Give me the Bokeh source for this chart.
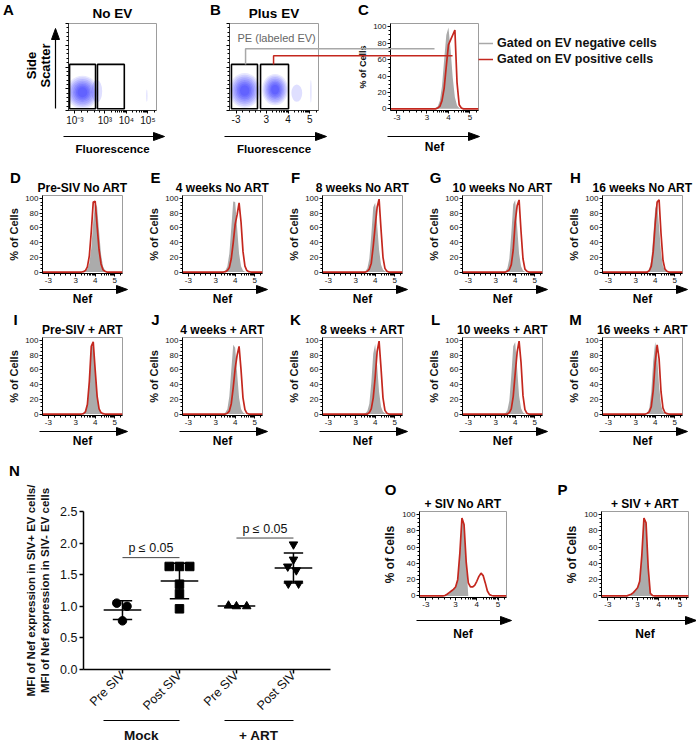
import numpy as np
from bokeh.plotting import figure
from bokeh.layouts import row, column
from bokeh.models import (FixedTicker, LinearAxis, Legend, LegendItem, Range1d,
                          NumeralTickFormatter)
from bokeh.core.properties import value
from bokeh.embed import file_html
from bokeh.resources import INLINE

FONT = "Liberation Sans"
RED = "#c4271e"
GFILL = "#ababab"
GLINE = "#a8a8a8"
BLUE = "#1c1cff"
INK = "#111111"
YSIGN = 1  # text y_offset direction (screen)

# ---------------- data ----------------
BINS = [2.4, 2.5, 2.6, 2.7, 2.8, 2.9, 3.0, 3.1, 3.2, 3.3, 3.4, 3.5, 3.6, 3.7,
        3.8, 3.9, 4.0, 4.1, 4.2, 4.3, 4.4, 4.5, 4.6, 4.7, 4.8, 4.9, 5.0]
NEF_TICKS = [1.6, 3, 4, 5]
NEF_LABELS = ["-3", "3", "4", "5"]
FLUO_LABELS_A = ["10\u207b\u00b3", "10\u00b3", "10\u2074", "10\u2075"]
PCT_TICKS = [0, 20, 40, 60, 80, 100]

GRAY_C = [0, 0, 0, 0, 0, 0, 0, 0, 0, 0, 1, 3, 10, 28, 60, 90, 99, 72, 38, 14, 4, 1, 0, 0, 0, 0, 0]
RED_C = [0, 0, 0, 0, 0, 0, 0, 0, 0, 0, 0, 1, 3, 10, 25, 52, 78, 84, 90, 96, 32, 5, 1, 0, 0, 0, 0]

ROW2_LETTERS = ["D", "E", "F", "G", "H"]
ROW2_TITLES = ["Pre-SIV No ART", "4 weeks No ART", "8 weeks No ART", "10 weeks No ART", "16 weeks No ART"]
ROW3_LETTERS = ["I", "J", "K", "L", "M"]
ROW3_TITLES = ["Pre-SIV + ART", "4 weeks + ART", "8 weeks + ART", "10 weeks + ART", "16 weeks + ART"]

GRAY_D = [0, 0, 0, 0, 0, 0, 0, 0, 0, 0, 0, 1, 4, 12, 32, 68, 95, 88, 55, 24, 8, 2, 0, 0, 0, 0, 0]
RED_D = [0, 0, 0, 0, 0, 0, 0, 0, 0, 0, 0.5, 2, 7, 22, 55, 95, 96, 62, 30, 11, 3, 1, 0, 0, 0, 0, 0]
GRAY_E = [0, 0, 0, 0, 0, 0, 0, 0, 0, 0, 0.5, 2, 8, 25, 60, 96, 95, 60, 25, 8, 2, 0.5, 0, 0, 0, 0, 0]
RED_E = [0, 0, 0, 0, 0, 0, 0, 0, 0, 0, 0, 0.5, 2, 6, 18, 40, 65, 78, 94, 68, 28, 8, 2, 0.5, 0, 0, 0]
GRAY_F = [0, 0, 0, 0, 0, 0, 0, 0, 0, 0, 0, 1, 5, 18, 50, 88, 94, 65, 30, 10, 3, 1, 0, 0, 0, 0, 0]
RED_F = [0, 0, 0, 0, 0, 0, 0, 0, 0, 0, 0, 0, 1, 4, 12, 35, 62, 88, 99, 58, 20, 5, 1, 0, 0, 0, 0]
GRAY_G = [0, 0, 0, 0, 0, 0, 0, 0, 0, 0, 0, 1, 5, 18, 52, 92, 98, 62, 25, 8, 2, 0.5, 0, 0, 0, 0, 0]
RED_G = [0, 0, 0, 0, 0, 0, 0, 0, 0, 0, 0, 0, 1, 3, 10, 30, 68, 90, 98, 55, 18, 4, 1, 0, 0, 0, 0]
GRAY_H = [0, 0, 0, 0, 0, 0, 0, 0, 0, 0, 0, 0, 1, 4, 16, 48, 86, 94, 62, 26, 8, 2, 0.5, 0, 0, 0, 0]
RED_H = [0, 0, 0, 0, 0, 0, 0, 0, 0, 0, 0, 0, 0, 2, 8, 28, 65, 95, 98, 52, 16, 4, 1, 0, 0, 0, 0]

GRAY_I = [0, 0, 0, 0, 0, 0, 0, 0, 0, 0, 1, 4, 15, 45, 88, 95, 62, 27, 8, 2, 0.5, 0, 0, 0, 0, 0, 0]
RED_I = [0, 0, 0, 0, 0, 0, 0, 0, 0, 0, 0.5, 3, 13, 44, 92, 98, 60, 24, 7, 2, 0.5, 0, 0, 0, 0, 0, 0]
GRAY_J = [0, 0, 0, 0, 0, 0, 0, 0, 0, 0, 0, 2, 7, 24, 60, 94, 90, 55, 22, 7, 2, 0.5, 0, 0, 0, 0, 0]
RED_J = [0, 0, 0, 0, 0, 0, 0, 0, 0, 0, 0, 0, 1, 4, 14, 36, 62, 80, 92, 60, 22, 6, 1, 0, 0, 0, 0]
GRAY_K = [0, 0, 0, 0, 0, 0, 0, 0, 0, 0, 0, 1, 4, 14, 42, 82, 95, 66, 30, 10, 3, 1, 0, 0, 0, 0, 0]
RED_K = [0, 0, 0, 0, 0, 0, 0, 0, 0, 0, 0, 0, 0, 2, 7, 22, 50, 85, 99, 62, 22, 5, 1, 0, 0, 0, 0]
GRAY_L = [0, 0, 0, 0, 0, 0, 0, 0, 0, 0, 0, 1, 5, 18, 52, 92, 98, 62, 25, 8, 2, 0.5, 0, 0, 0, 0, 0]
RED_L = [0, 0, 0, 0, 0, 0, 0, 0, 0, 0, 0, 0, 0, 2, 7, 24, 55, 84, 99, 70, 25, 6, 1, 0, 0, 0, 0]
GRAY_M = [0, 0, 0, 0, 0, 0, 0, 0, 0, 0, 0, 0, 2, 8, 30, 72, 98, 80, 38, 12, 3, 1, 0, 0, 0, 0, 0]
RED_M = [0, 0, 0, 0, 0, 0, 0, 0, 0, 0, 0, 0, 1, 3, 10, 32, 70, 94, 75, 30, 8, 2, 0.5, 0, 0, 0, 0]

GRAY_O = [0, 0.5, 2, 4, 6, 8, 11, 20, 52, 96, 88, 42, 0, 0, 0, 0, 0, 0, 0, 0, 0, 0, 0, 0, 0, 0, 0]
RED_O = [0, 0.5, 2, 4, 6, 8, 11, 20, 52, 96, 88, 42, 16, 11, 11, 13, 18, 24, 28, 25, 16, 6, 1.5, 0.5, 0, 0, 0]
GRAY_P = [0, 0, 1, 2, 4, 6, 9, 17, 48, 97, 88, 30, 2, 0, 0, 0, 0, 0, 0, 0, 0, 0, 0, 0, 0, 0, 0]
RED_P = [0, 0, 1, 2, 4, 7, 10, 18, 50, 96, 90, 35, 3, 0.5, 0, 0, 0, 0, 0, 0, 0, 0, 0, 0, 0, 0, 0]

ROW2_GRAY = [GRAY_D, GRAY_E, GRAY_F, GRAY_G, GRAY_H]
ROW2_RED = [RED_D, RED_E, RED_F, RED_G, RED_H]
ROW3_GRAY = [GRAY_I, GRAY_J, GRAY_K, GRAY_L, GRAY_M]
ROW3_RED = [RED_I, RED_J, RED_K, RED_L, RED_M]

# flow dot-plot populations (centre, spread) on the display scale
CLOUD_A_X, CLOUD_A_Y, CLOUD_A_W, CLOUD_A_H = [1.95], [21], [1.5], [38]
SPARSE_A_X, SPARSE_A_Y, SPARSE_A_W, SPARSE_A_H = [2.62, 4.95], [22, 17], [0.5, 0.06], [26, 14]
CLOUD_B_X, CLOUD_B_Y, CLOUD_B_W, CLOUD_B_H = [2.0, 3.4], [23, 24], [1.45, 1.2], [40, 36]
SPARSE_B_X, SPARSE_B_Y, SPARSE_B_W, SPARSE_B_H = [5.05, 4.4], [22, 20], [0.06, 0.5], [26, 20]
GATE_A_X0, GATE_A_X1 = [1.35, 2.65], [2.56, 3.9]
GATE_B_X0, GATE_B_X1 = [1.39, 2.73], [2.59, 4.02]
GATE_Y0, GATE_Y1 = 2, 53
LINK_X_B = [2.04, 3.33]        # gate connectors (x in B)
LINK_LEVEL = [71, 63]          # connector height (% of panel)
LINK_END_C = [3.35, 4.19]      # where they end in C
LEGEND_LABELS = ["Gated on EV negative cells", "Gated on EV positive cells"]

# panel N
N_CATS = ["Pre SIV", "Post SIV", "Pre SIV", "Post SIV"]
N_GROUPS = ["Mock", "+ ART"]
MOCK_PRE = [1.05, 1.00, 0.77]
MOCK_POST = [1.63, 1.63, 1.63, 1.35, 1.20, 0.96]
ART_PRE = [1.01, 1.00, 1.00]
ART_POST = [1.98, 1.74, 1.63, 1.57, 1.36, 1.36]
MOCK_PRE_DX = [-0.10, 0.08, 0.0]
MOCK_POST_DX = [-0.18, 0.0, 0.18, 0.0, 0.0, 0.0]
ART_PRE_DX = [-0.14, 0.0, 0.18]
ART_POST_DX = [0.0, 0.0, -0.10, 0.05, -0.09, 0.09]
P_TEXT = ["p \u2264 0.05", "p \u2264 0.05"]
P_X0, P_X1, P_Y = [1, 3], [2, 4], [1.77, 2.08]
GROUP_LABEL_X = [1.33, 3.39]
GROUP_LINE_X0, GROUP_LINE_X1 = [0.667, 2.79], [2.0, 4.0]

XR = (1.3, 5.4)
YR = (-2.0, 104.0)
SYR = (0.0, 100.0)
MINOR_X = [1.9, 2.2, 2.5, 2.75] + [d + float(np.log10(k)) for d in (3, 4) for k in range(2, 10)] + [5.3]


class Geo:
    def __init__(self, L, T, W, H, xr, yr):
        self.L, self.T, self.W, self.H, self.xr, self.yr = L, T, W, H, xr, yr

    def m(self, px, py):
        return (self.xr[0] + (px - self.L) / self.W * (self.xr[1] - self.xr[0]),
                self.yr[1] - (py - self.T) / self.H * (self.yr[1] - self.yr[0]))


def otext(p, g, px, py, s, size, bold=True, color="black", align="center", angle=0.0):
    """text anchored at the frame centre and shifted (in pixels) to canvas point px, py"""
    xc = (g.xr[0] + g.xr[1]) / 2
    yc = (g.yr[0] + g.yr[1]) / 2
    p.text(x=[xc], y=[yc], text=[s], x_offset=px - (g.L + g.W / 2),
           y_offset=YSIGN * (py - (g.T + g.H / 2)), angle=angle,
           text_font=value(FONT), text_font_size=f"{size}px",
           text_font_style="bold" if bold else "normal", text_color=color,
           text_align=align, text_baseline="middle", level="overlay")


def h_arrow(p, g, x0, x1, y):
    a0, ay = g.m(x0, y)
    a1, _ = g.m(x1 - 6, y)
    p.line([a0, a1], [ay, ay], line_color="black", line_width=1.2, level="overlay")
    hx, hy0 = g.m(x1 - 11, y - 4)
    _, hy1 = g.m(x1 - 11, y + 4)
    tx, _ = g.m(x1, y)
    p.patch([hx, hx, tx], [hy0, hy1, ay], fill_color="black", line_color="black", level="overlay")


def v_arrow(p, g, x, y0, y1):
    ax, a0 = g.m(x, y0)
    _, a1 = g.m(x, y1 + 6)
    hx0, hy = g.m(x - 4, y1 + 11)
    hx1, _ = g.m(x + 4, y1 + 11)
    _, ty = g.m(x, y1)
    p.line([ax, ax], [a0, a1], line_color="black", line_width=1.2, level="overlay")
    p.patch([hx0, hx1, ax], [hy, hy, ty], fill_color="black", line_color="black", level="overlay")


def base_fig(g, R, B):
    p = figure(frame_width=g.W, frame_height=g.H, min_border_left=g.L, min_border_right=R,
               min_border_top=g.T, min_border_bottom=B, x_range=Range1d(*g.xr), y_range=Range1d(*g.yr),
               output_backend="svg", toolbar_location=None, title=None)
    p.grid.visible = False
    p.outline_line_color = "#9d9d9d"
    for ax in (p.xaxis[0], p.yaxis[0]):
        ax.axis_line_color = "black"
        ax.major_tick_line_color = "black"
        ax.minor_tick_line_color = "black"
        ax.major_tick_out, ax.major_tick_in = 3, 0
        ax.minor_tick_out, ax.minor_tick_in = 2, 0
        ax.major_label_text_font = FONT
        ax.major_label_text_color = INK
        ax.major_label_standoff = 1
        ax.axis_label_text_font = FONT
        ax.axis_label_text_color = INK
        ax.axis_label_text_font_style = "bold"
        ax.axis_label_standoff = 2
    return p


def hist_fig(letter, title, gray, red, L, T, W, H, R, B, *, ylab=11, tick=8,
             arrow_gap=16, lab_gap=25, title_gap=8, letter_xy=(15, 14), arrow_ext=5, tsize=12):
    g = Geo(L, T, W, H, XR, YR)
    p = base_fig(g, R, B)
    xs = [XR[0]] + BINS + [XR[1]]
    p.varea(x=xs, y1=[0] * len(xs), y2=[0] + gray + [0], fill_color=GFILL)
    p.line(xs, [0] + red + [0], line_color=RED, line_width=1.7)
    p.xaxis.ticker = FixedTicker(ticks=NEF_TICKS, minor_ticks=MINOR_X)
    p.xaxis.major_label_overrides = dict(zip(NEF_TICKS, NEF_LABELS))
    p.yaxis.ticker = FixedTicker(ticks=PCT_TICKS, minor_ticks=list(range(0, 101, 5)))
    p.xaxis.major_label_text_font_size = f"{tick}px"
    p.yaxis.major_label_text_font_size = f"{tick}px"
    p.yaxis.axis_label = "% of Cells"
    p.yaxis.axis_label_text_font_size = f"{ylab}px"
    h_arrow(p, g, L - 3, L + W + arrow_ext, T + H + arrow_gap)
    otext(p, g, L + W / 2, T + H + lab_gap, "Nef", 12)
    if title:
        otext(p, g, L + W / 2, T - title_gap, title, tsize)
    otext(p, g, letter_xy[0], letter_xy[1], letter, 15)
    return p, g


# ---------------- row 1 ----------------
R1T, R1H, R1B = 23, 87, 53
CLOUD_LAYERS = [(1.0, 0.1), (0.9, 0.11), (0.8, 0.12), (0.7, 0.13), (0.6, 0.14),
                (0.5, 0.15), (0.4, 0.16), (0.3, 0.17)]


def scatter_fig(letter, title, tick_labels, cx, cy, cw, ch, sx, sy, sw, sh, gx0, gx1, L, W, R, letter_x):
    g = Geo(L, R1T, W, R1H, XR, SYR)
    p = base_fig(g, R, R1B)
    p.axis.axis_line_color = "#333333"
    for s, a in CLOUD_LAYERS:
        p.ellipse(x=cx, y=cy, width=[w * s for w in cw], height=[h * s for h in ch],
                  fill_color=BLUE, fill_alpha=a, line_color=None)
    p.ellipse(x=sx, y=sy, width=sw, height=sh, fill_color=BLUE, fill_alpha=0.14, line_color=None)
    p.quad(left=gx0, right=gx1, bottom=[GATE_Y0] * 2, top=[GATE_Y1] * 2,
           fill_color=None, line_color="black", line_width=1.6)
    p.xaxis.ticker = FixedTicker(ticks=NEF_TICKS, minor_ticks=MINOR_X)
    p.xaxis.major_label_overrides = dict(zip(NEF_TICKS, tick_labels))
    p.xaxis.major_label_text_font_size = "10px"
    p.yaxis.ticker = FixedTicker(ticks=[0, 25, 50, 75, 100], minor_ticks=list(range(0, 101, 5)))
    p.yaxis.major_label_text_color = None
    h_arrow(p, g, L - 5, L + W + 8, 136)
    otext(p, g, L + W / 2, 148, "Fluorescence", 11.5)
    otext(p, g, L + W / 2, 13, title, 13.5)
    otext(p, g, letter_x, 9, letter, 15)
    return p, g


pA, gA = scatter_fig("A", "No EV", FLUO_LABELS_A, CLOUD_A_X, CLOUD_A_Y, CLOUD_A_W, CLOUD_A_H,
                     SPARSE_A_X, SPARSE_A_Y, SPARSE_A_W, SPARSE_A_H, GATE_A_X0, GATE_A_X1,
                     L=68, W=88, R=49, letter_x=8)
otext(pA, gA, 31, 65, "Side", 13, angle=np.pi / 2)
otext(pA, gA, 45, 65, "Scatter", 13, angle=np.pi / 2)
v_arrow(pA, gA, 55, 108, 28)

BL, BW, BR = 24, 89, 37
pB, gB = scatter_fig("B", "Plus EV", NEF_LABELS, CLOUD_B_X, CLOUD_B_Y, CLOUD_B_W, CLOUD_B_H,
                     SPARSE_B_X, SPARSE_B_Y, SPARSE_B_W, SPARSE_B_H, GATE_B_X0, GATE_B_X1,
                     L=BL, W=BW, R=BR, letter_x=10)
otext(pB, gB, BL + 8, R1T + 14, "PE (labeled EV)", 11, bold=False, color="#666666", align="left")
for xb, lev, col in zip(LINK_X_B, LINK_LEVEL, [GLINE, RED]):
    xe, _ = gB.m(BL + BW + BR + 1, 0)
    pB.line([xb, xb, xe], [GATE_Y1, lev, lev], line_color=col, line_width=1.5, level="overlay")

CL, CW, CR = 35, 88, 218
pC, gC = hist_fig("C", None, GRAY_C, RED_C, CL, R1T, CW, R1H, CR, R1B, ylab=9, tick=8,
                  arrow_gap=26, lab_gap=36, letter_xy=(8, 9), arrow_ext=1)
link_renderers = []
for lev, xe, col in zip(LINK_LEVEL, LINK_END_C, [GLINE, RED]):
    py = R1T + (1 - lev / 100.0) * R1H
    x0, yc = gC.m(-1, py)
    r = pC.line([x0, xe], [yc, yc], line_color=col, line_width=1.5, level="overlay")
    link_renderers.append(r)
leg = Legend(items=[LegendItem(label=lab, renderers=[r]) for lab, r in zip(LEGEND_LABELS, link_renderers)],
             location="top_left", title=" ", title_text_font_size="11px", title_standoff=1,
             label_text_font=FONT, label_text_font_style="bold", label_text_color=INK,
             label_text_font_size="12.5px", glyph_width=15, glyph_height=12, label_height=12,
             label_standoff=4, spacing=2, padding=0, margin=0, border_line_color=None,
             background_fill_alpha=0)
pC.add_layout(leg, "right")


# ---------------- rows 2 and 3 ----------------
def hist_row(letters, titles, grays, reds):
    figs = []
    for i, (lt, tt, g, r) in enumerate(zip(letters, titles, grays, reds)):
        R = 18 if i < 4 else 14
        p, _ = hist_fig(lt, tt, g, r, 42, 32, 80, 78, R, 32)
        figs.append(p)
    return figs


row2 = hist_row(ROW2_LETTERS, ROW2_TITLES, ROW2_GRAY, ROW2_RED)
row3 = hist_row(ROW3_LETTERS, ROW3_TITLES, ROW3_GRAY, ROW3_RED)

# ---------------- bottom row (N, O, P share the same top border) ----------------
R4T, R4HEIGHT = 64, 296
NXR, NYR = (0.316, 4.65), (0.0, 2.5)
gN = Geo(83, R4T, 247, 158, NXR, NYR)
NR, NB = 50, R4HEIGHT - R4T - 158
pN = figure(frame_width=gN.W, frame_height=gN.H, min_border_left=gN.L, min_border_right=NR,
            min_border_top=gN.T, min_border_bottom=NB, x_range=Range1d(*NXR), y_range=Range1d(*NYR),
            output_backend="svg", toolbar_location=None, title=None)
pN.grid.visible = False
pN.outline_line_color = None
pN.xaxis.ticker = FixedTicker(ticks=[1, 2, 3, 4])
pN.xaxis.major_label_overrides = {i + 1: c for i, c in enumerate(N_CATS)}
pN.xaxis.major_label_orientation = np.pi / 4
pN.yaxis.ticker = FixedTicker(ticks=[0, 0.5, 1, 1.5, 2, 2.5])
pN.yaxis.formatter = NumeralTickFormatter(format="0.0")
for ax in (pN.xaxis[0], pN.yaxis[0]):
    ax.axis_line_color = "black"
    ax.axis_line_width = 1.5
    ax.major_tick_line_color = "black"
    ax.major_tick_line_width = 1.5
    ax.major_tick_out, ax.major_tick_in = 4, 0
    ax.minor_tick_line_color = None
    ax.major_label_text_font = FONT
    ax.major_label_text_color = INK
    ax.major_label_text_font_size = "12.5px"
    ax.major_label_standoff = 2
    ax.axis_label_text_font = FONT
    ax.axis_label_text_color = INK
    ax.axis_label_text_font_style = "bold"
    ax.axis_label_text_font_size = "11.5px"
pN.xaxis.major_label_standoff = 0
pN.yaxis.axis_label = "MFI of Nef expression in SIV- EV cells"
pN.yaxis.axis_label_standoff = 6
extra = LinearAxis(axis_label="MFI of Nef expression in SIV+ EV cells/", ticker=FixedTicker(ticks=[]),
                   axis_line_color=None, major_tick_line_color=None, minor_tick_line_color=None,
                   axis_label_text_font=FONT, axis_label_text_font_style="bold",
                   axis_label_text_color=INK, axis_label_text_font_size="11.5px", axis_label_standoff=0)
pN.add_layout(extra, "left")
ppu = gN.W / (NXR[1] - NXR[0])
dash = f"{round((GROUP_LINE_X1[0] - GROUP_LINE_X0[0]) * ppu)} {round((GROUP_LINE_X0[1] - GROUP_LINE_X1[0]) * ppu)}"
group_ax = LinearAxis(ticker=FixedTicker(ticks=GROUP_LABEL_X),
                      major_label_overrides=dict(zip(GROUP_LABEL_X, N_GROUPS)),
                      bounds=(GROUP_LINE_X0[0], GROUP_LINE_X1[-1]), axis_line_color="black",
                      axis_line_width=1, axis_line_dash=dash, major_tick_line_color=None,
                      minor_tick_line_color=None, major_label_text_font=FONT, major_label_text_color=INK,
                      major_label_text_font_style="bold", major_label_text_font_size="13.5px",
                      major_label_standoff=1)
pN.add_layout(group_ax, "below")

groups = [(MOCK_PRE, MOCK_PRE_DX, "circle"), (MOCK_POST, MOCK_POST_DX, "square"),
          (ART_PRE, ART_PRE_DX, "triangle"), (ART_POST, ART_POST_DX, "inverted_triangle")]
for k, (vals, dx, mk) in enumerate(groups):
    c = k + 1
    pN.scatter([c + d for d in dx], vals, marker=mk, size=8.5, fill_color="black", line_color="black")
    mu, sd = float(np.mean(vals)), float(np.std(vals, ddof=1))
    pN.segment(x0=[c - 0.33, c - 0.17, c - 0.17, c], y0=[mu, mu + sd, mu - sd, mu - sd],
               x1=[c + 0.33, c + 0.17, c + 0.17, c], y1=[mu, mu + sd, mu - sd, mu + sd],
               line_color="black", line_width=1.5)
pN.segment(x0=P_X0, y0=P_Y, x1=P_X1, y1=P_Y, line_color="#444444", line_width=1)
pN.text(x=[(a + b) / 2 for a, b in zip(P_X0, P_X1)], y=[y + 0.04 for y in P_Y], text=P_TEXT,
        text_font=value(FONT), text_font_size="12.5px", text_align="center", text_baseline="bottom",
        text_color=INK)
otext(pN, gN, 14, 23, "N", 15)

OPH = 86
OPB = R4HEIGHT - R4T - OPH
pO, _ = hist_fig("O", "+ SIV No ART", GRAY_O, RED_O, 36, R4T, 87, OPH, 49, OPB, ylab=12,
                 arrow_gap=23, lab_gap=36, letter_xy=(7, R4T - 22), arrow_ext=5)
pP, _ = hist_fig("P", "+ SIV + ART", GRAY_P, RED_P, 46, R4T, 87, OPH, 11, OPB, ylab=12,
                 arrow_gap=23, lab_gap=36, letter_xy=(7, R4T - 22), arrow_ext=8)

layout = column(row(pA, pB, pC), row(*row2), row(*row3), row(pN, pO, pP))
open("out.html", "w").write(file_html(layout, INLINE))
